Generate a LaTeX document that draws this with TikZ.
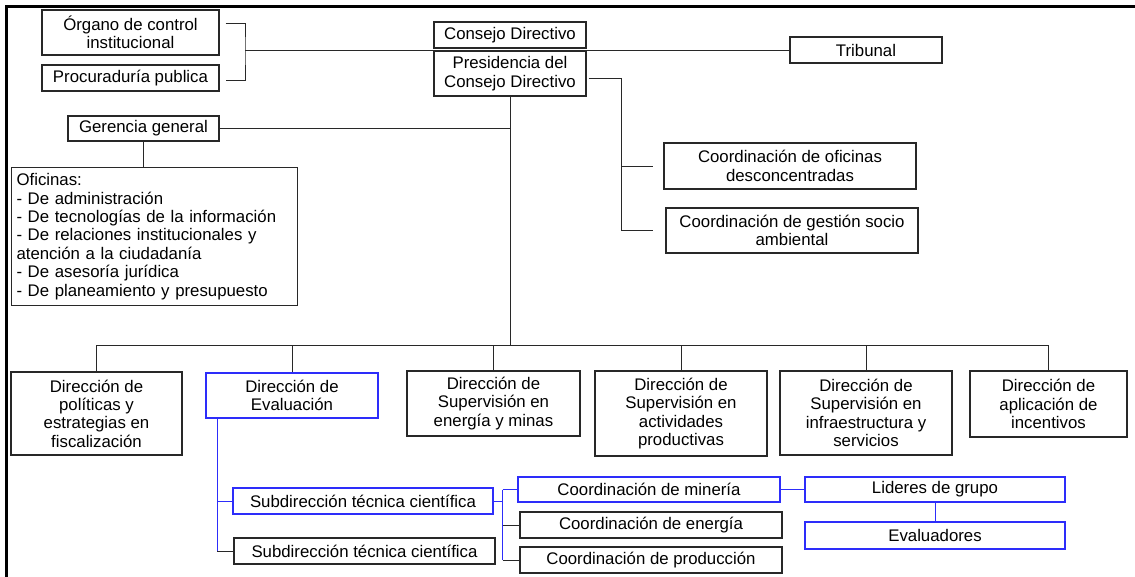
\documentclass[tikz,border=0pt]{standalone}
\usepackage{fontspec}
\setmainfont{Liberation Sans}
\usetikzlibrary{calc}
\definecolor{bblue}{RGB}{45,45,250}
\definecolor{dk}{RGB}{40,40,40}
\tikzset{
  box/.style={draw=dk, line width=1.1pt, inner sep=1pt, align=center, font=\fontsize{16.8}{18.4}\selectfont},
  bbox/.style={box, draw=bblue},
  conn/.style={draw=dk, line width=0.9pt},
  bline/.style={draw=bblue, line width=0.9pt},
  frame/.style={draw=black, line width=2.2pt}
}
\newcommand\bx[6]{\node[#1, minimum width={#4-#2}, minimum height={#5-#3}] (#6) at ({(#2+#4)/2},{(#3+#5)/2})}
\begin{document}
\begin{tikzpicture}[x=1pt,y=-1pt]
\useasboundingbox (0,0) rectangle (1135,577);
\draw[frame] (6.5,577) -- (6.5,6.5) -- (1135,6.5);

% top
\bx{box}{42}{10}{219}{55}{org} {Órgano de control\\institucional};
\bx{box}{42}{65}{219}{91}{proc} {Procuraduría publica};
\bx{box}{434}{22}{586}{48}{cons} {Consejo Directivo};
\bx{box}{434}{51}{586}{96}{pres} {Presidencia del\\Consejo Directivo};
\bx{box}{790}{37}{942}{63}{trib} {Tribunal};
\bx{box}{68}{116}{219}{141}{ger} {Gerencia general};
\node[box, align=left, text width=276pt, inner xsep=5pt, minimum height=138pt, anchor=north west] (ofi) at (11,167)
 {Oficinas:\\- De administración\\- De tecnologías de la información\\- De relaciones institucionales y\\atención a la ciudadanía\\- De asesoría jurídica\\- De planeamiento y presupuesto};
\bx{box}{664}{143}{916}{189}{co} {Coordinación de oficinas\\desconcentradas};
\bx{box}{666}{208}{918}{253}{cg} {Coordinación de gestión socio\\ambiental};

% direcciones
\bx{box}{11}{372}{182}{455}{d1} {Dirección de\\políticas y\\estrategias en\\fiscalización};
\bx{bbox}{206}{373}{378}{418}{d2} {Dirección de\\Evaluación};
\bx{box}{407}{371}{580}{436}{d3} {Dirección de\\Supervisión en\\energía y minas};
\bx{box}{595}{371}{767}{456}{d4} {Dirección de\\Supervisión en\\actividades\\productivas};
\bx{box}{780}{371}{952}{455}{d5} {Dirección de\\Supervisión en\\infraestructura y\\servicios};
\bx{box}{970}{371}{1127}{437}{d6} {Dirección de\\aplicación de\\incentivos};

% lower
\bx{bbox}{233}{488}{493}{514}{s1} {Subdirección técnica científica};
\bx{box}{234}{538}{495}{564}{s2} {Subdirección técnica científica};
\bx{bbox}{518}{477}{780}{502}{cm} {Coordinación de minería};
\bx{box}{520}{512}{782}{538}{ce} {Coordinación de energía};
\bx{box}{520}{547}{782}{573}{cp} {Coordinación de producción};
\bx{bbox}{805}{477}{1065}{502}{lid} {Lideres de grupo};
\bx{bbox}{805}{522}{1065}{549}{ev} {Evaluadores};

% connectors top
\coordinate (brk) at (245,50);
\draw[conn] ($(org.east)+(6,-9.5)$) -| (brk) |- ($(proc.east)+(6,2)$);
\draw[conn] (brk) -- (trib.west);
\draw[conn] (ger.east) -- (ger.east -| pres.south);
\draw[conn] (ger.south) -- (ger.south |- ofi.north);
\coordinate (bus) at (pres.south |- 0,345);
\draw[conn] (pres.south) -- (bus);
\draw[conn] ($(pres.east)+(2,4.5)$) -| ($(cg.west)+(-44,0)$) -- ($(cg.west)+(-12,0)$);
\draw[conn] ($(co.west)+(-42,0)$) -- ($(co.west)+(-10,0)$);

% bus
\draw[conn] (d1.north) |- (bus);
\draw[conn] (d6.north) |- (bus);
\foreach \n in {d2,d3,d4,d5} \draw[conn] (\n.north) -- (\n.north |- bus);

% evaluation branch
\coordinate (evx) at ($(d2.south west)+(12,0)$);
\draw[bline] (evx) |- (s1.west);
\draw[bline] (evx) -- (evx |- s2.west);
\draw[conn] (evx |- s2.west) -- (s2.west);
\coordinate (sv) at ($(s1.east)+(9,0)$);
\draw[bline] (s1.east) -- (sv);
\draw[bline] (sv |- cm.west) -- (sv |- cp.west);
\draw[bline] (sv |- cm.west) -- (cm.west);
\draw[conn] (sv |- ce.west) -- (ce.west);
\draw[conn] (sv |- cp.west) -- (cp.west);
\draw[bline] (cm.east) -- (lid.west);
\draw[bline] (lid.south) -- (ev.north);
\end{tikzpicture}
\end{document}
